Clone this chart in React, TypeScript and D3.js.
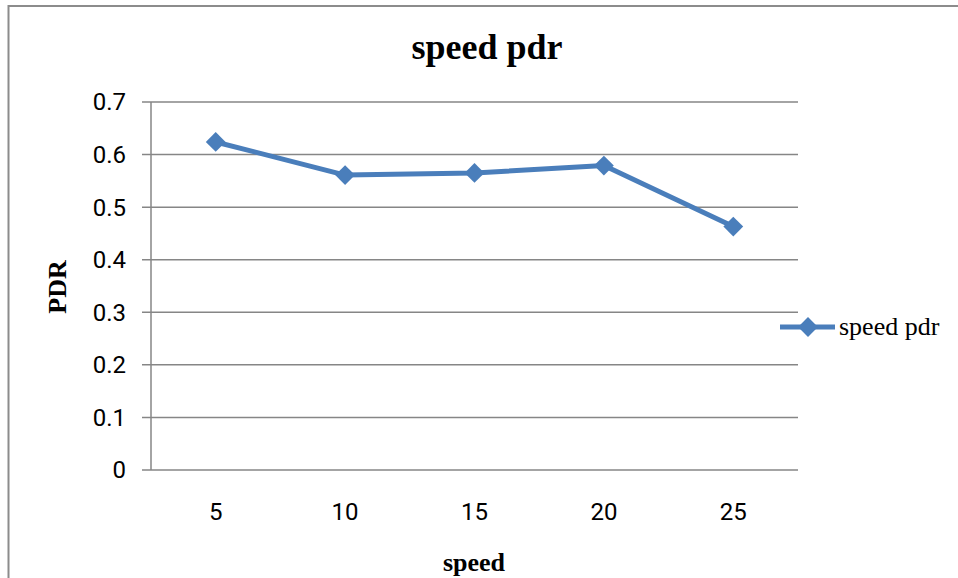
import * as d3 from "d3";
import { useEffect, useRef } from "react";

const categories = ["5", "10", "15", "20", "25"];
const pdrValues = [0.624, 0.561, 0.565, 0.579, 0.463];
const yTicks = [0, 0.1, 0.2, 0.3, 0.4, 0.5, 0.6, 0.7];
const seriesName = "speed pdr";

const width = 958;
const height = 578;
const margin = { left: 151, right: 160, top: 102, bottom: 108 };
const blue = "#4A7EBB";
const grey = "#868686";

const App = () => {
  const svgRef = useRef<SVGSVGElement | null>(null);

  useEffect(() => {
    if (!svgRef.current) return;
    const svg = d3.select(svgRef.current);
    svg.selectAll("*").remove();

    const x = d3
      .scalePoint<string>()
      .domain(categories)
      .range([margin.left, width - margin.right])
      .padding(0.5);
    const y = d3
      .scaleLinear()
      .domain([0, 0.7])
      .range([height - margin.bottom, margin.top]);

    // outer frame (runs off the picture on the right and bottom)
    svg
      .append("rect")
      .attr("x", 8.5)
      .attr("y", 6)
      .attr("width", 1000)
      .attr("height", 1000)
      .attr("fill", "none")
      .attr("stroke", "#8c8c8c")
      .attr("stroke-width", 2);

    // gridlines
    svg
      .append("g")
      .selectAll("line")
      .data(yTicks)
      .enter()
      .append("line")
      .attr("x1", margin.left - 9)
      .attr("x2", width - margin.right)
      .attr("y1", (d) => y(d))
      .attr("y2", (d) => y(d))
      .attr("stroke", grey)
      .attr("stroke-width", 1.5);

    // y axis line
    svg
      .append("line")
      .attr("x1", margin.left)
      .attr("x2", margin.left)
      .attr("y1", y(0.7))
      .attr("y2", y(0))
      .attr("stroke", grey)
      .attr("stroke-width", 1.5);

    // y tick labels
    svg
      .append("g")
      .selectAll("text")
      .data(yTicks)
      .enter()
      .append("text")
      .attr("x", 126)
      .attr("y", (d) => y(d))
      .attr("dy", "0.35em")
      .attr("text-anchor", "end")
      .attr("font-family", "Roboto, sans-serif")
      .attr("font-size", 24)
      .attr("fill", "#000")
      .text((d) => (d === 0 ? "0" : d3.format(".1f")(d)));

    // x tick labels
    svg
      .append("g")
      .selectAll("text")
      .data(categories)
      .enter()
      .append("text")
      .attr("x", (d) => x(d)!)
      .attr("y", 512)
      .attr("dy", "0.35em")
      .attr("text-anchor", "middle")
      .attr("font-family", "Roboto, sans-serif")
      .attr("font-size", 24)
      .attr("fill", "#000")
      .text((d) => d);

    // series line
    const line = d3
      .line<number>()
      .x((_, i) => x(categories[i])!)
      .y((d) => y(d));
    svg
      .append("path")
      .datum(pdrValues)
      .attr("d", line)
      .attr("fill", "none")
      .attr("stroke", blue)
      .attr("stroke-width", 5)
      .attr("stroke-linejoin", "round");

    const diamond = d3.symbol().type(d3.symbolSquare).size(196);
    svg
      .append("g")
      .selectAll("path")
      .data(pdrValues)
      .enter()
      .append("path")
      .attr("d", diamond)
      .attr(
        "transform",
        (d, i) => `translate(${x(categories[i])},${y(d)}) rotate(45)`
      )
      .attr("fill", blue);

    // title
    svg
      .append("text")
      .attr("x", 487)
      .attr("y", 59)
      .attr("text-anchor", "middle")
      .attr("font-family", "'Liberation Serif', 'Times New Roman', serif")
      .attr("font-weight", "bold")
      .attr("font-size", 36)
      .text(seriesName);

    // axis titles
    svg
      .append("text")
      .attr("x", 474)
      .attr("y", 571)
      .attr("text-anchor", "middle")
      .attr("font-family", "'Liberation Serif', 'Times New Roman', serif")
      .attr("font-weight", "bold")
      .attr("font-size", 26)
      .text("speed");

    svg
      .append("text")
      .attr("transform", "translate(66,287) rotate(-90)")
      .attr("text-anchor", "middle")
      .attr("font-family", "'Liberation Serif', 'Times New Roman', serif")
      .attr("font-weight", "bold")
      .attr("font-size", 26)
      .text("PDR");

    // legend
    const legend = svg.append("g").attr("transform", "translate(780,327)");
    legend
      .append("line")
      .attr("x1", 0)
      .attr("x2", 55)
      .attr("stroke", blue)
      .attr("stroke-width", 5);
    legend
      .append("path")
      .attr("d", diamond)
      .attr("transform", "translate(28,0) rotate(45)")
      .attr("fill", blue);
    legend
      .append("text")
      .attr("x", 59)
      .attr("dy", "0.32em")
      .attr("font-family", "'Liberation Serif', 'Times New Roman', serif")
      .attr("font-size", 26)
      .text(seriesName);
  }, []);

  return (
    <svg
      ref={svgRef}
      width={width}
      height={height}
      style={{ position: "absolute", left: 0, top: 0, background: "#fff" }}
    ></svg>
  );
};

export default App;
